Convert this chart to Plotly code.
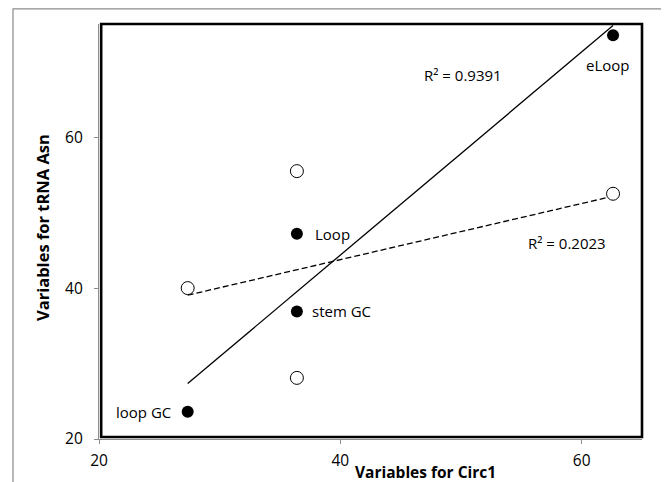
import numpy as np
import plotly.graph_objects as go

# ---- data ----
circ1_x = [27.35, 36.4, 36.4, 62.6]
trna_filled_y = [23.6, 47.2, 36.9, 73.5]
point_labels = ["loop GC", "Loop", "stem GC", "eLoop"]
open_x = [27.35, 36.4, 36.4, 62.6]
open_y = [40.0, 55.5, 28.1, 52.5]
r2_labels = ["R² = 0.9391", "R² = 0.2023"]
x_ticks = [20, 40, 60]
y_ticks = [20, 40, 60]
x_title = "Variables for Circ1"
y_title = "Variables for tRNA Asn"

FONT = "Open Sans"
LABEL_SIZE = 15

# page coordinates of the plot area (the html body adds an 8px offset)
PL, PR, PT, PB = 99, 642, 24, 439
OFF = 8
W, H = 669, 482
PW, PH = PR - PL, PB - PT

def px(xp):
    return (xp - PL) / PW

def py(yp):
    return (PB - yp) / PH

fig = go.Figure()

# trendlines (linear fits computed from the data)
def fit_line(xs, ys):
    k, b = np.polyfit(xs, ys, 1)
    xl = np.array([min(xs), max(xs)])
    return xl, k * xl + b

fx, fy = fit_line(circ1_x, trna_filled_y)
ox, oy = fit_line(open_x, open_y)

fig.add_trace(go.Scatter(x=fx, y=fy, mode="lines",
                         line=dict(color="black", width=1.3), hoverinfo="skip"))
fig.add_trace(go.Scatter(x=ox, y=oy, mode="lines",
                         line=dict(color="black", width=1.3, dash="6px,3px"), hoverinfo="skip"))

fig.add_trace(go.Scatter(x=open_x, y=open_y, mode="markers",
                         marker=dict(symbol="circle", size=13, color="white",
                                     line=dict(color="black", width=1))))
fig.add_trace(go.Scatter(x=circ1_x, y=trna_filled_y, mode="markers",
                         marker=dict(symbol="circle", size=12, color="black",
                                     line=dict(color="black", width=0))))

annotations = []
offsets = {
    "loop GC": dict(xanchor="right", xshift=-15, yshift=0),
    "Loop": dict(xanchor="left", xshift=16, yshift=0),
    "stem GC": dict(xanchor="left", xshift=13, yshift=0),
    "eLoop": dict(xanchor="center", xshift=-6, yshift=-30),
}
for xv, yv, lab in zip(circ1_x, trna_filled_y, point_labels):
    o = offsets[lab]
    annotations.append(dict(x=xv, y=yv, xref="x", yref="y", text=lab, showarrow=False,
                            xanchor=o["xanchor"], yanchor="middle",
                            xshift=o["xshift"], yshift=o["yshift"],
                            font=dict(family=FONT, size=LABEL_SIZE, color="black")))

annotations.append(dict(x=50.2, y=68.3, xref="x", yref="y", text=r2_labels[0],
                        showarrow=False, xanchor="center", yanchor="middle",
                        font=dict(family=FONT, size=LABEL_SIZE, color="black")))
annotations.append(dict(x=58.8, y=46.0, xref="x", yref="y", text=r2_labels[1],
                        showarrow=False, xanchor="center", yanchor="middle",
                        font=dict(family=FONT, size=LABEL_SIZE, color="black")))

# axis titles
annotations.append(dict(x=px(425), y=py(472), xref="paper", yref="paper",
                        text="<b>" + x_title + "</b>", showarrow=False,
                        xanchor="center", yanchor="middle",
                        font=dict(family=FONT, size=15.5, color="black")))
annotations.append(dict(x=px(43), y=py(228), xref="paper", yref="paper",
                        text="<b>" + y_title + "</b>", showarrow=False, textangle=-90,
                        xanchor="center", yanchor="middle",
                        font=dict(family=FONT, size=16.5, color="black")))

shapes = [
    # outer chart frame
    dict(type="rect", xref="paper", yref="paper",
         x0=px(13), x1=px(668), y0=py(495), y1=py(8.8),
         line=dict(color="#8c8c8c", width=1.2), fillcolor="rgba(0,0,0,0)", layer="below"),
    # thick black plot-area border
    dict(type="rect", xref="paper", yref="paper",
         x0=0.004, x1=1.0, y0=0.005, y1=1.0,
         line=dict(color="black", width=2.6), fillcolor="rgba(0,0,0,0)", layer="above"),
]

fig.update_layout(
    width=W, height=H,
    margin=dict(l=PL - OFF, r=W - (PR - OFF), t=PT - OFF, b=H - (PB - OFF)),
    paper_bgcolor="white", plot_bgcolor="white",
    showlegend=False,
    annotations=annotations,
    shapes=shapes,
    font=dict(family=FONT, size=15, color="black"),
)
fig.update_xaxes(range=[20, 65], tickvals=x_ticks, ticktext=[str(v) for v in x_ticks],
                 showgrid=False, zeroline=False, showline=True, linecolor="#8c8c8c",
                 linewidth=1.2, ticks="outside", ticklen=4, tickcolor="#8c8c8c",
                 ticklabelstandoff=3,
                 tickfont=dict(family=FONT, size=15.5, color="black"))
fig.update_yaxes(range=[20, 75], tickvals=y_ticks, ticktext=[str(v) for v in y_ticks],
                 showgrid=False, zeroline=False, showline=True, linecolor="#8c8c8c",
                 linewidth=1.2, ticks="outside", ticklen=4, tickcolor="#8c8c8c",
                 ticklabelstandoff=8,
                 tickfont=dict(family=FONT, size=15.5, color="black"))

fig.write_html("out.html")
